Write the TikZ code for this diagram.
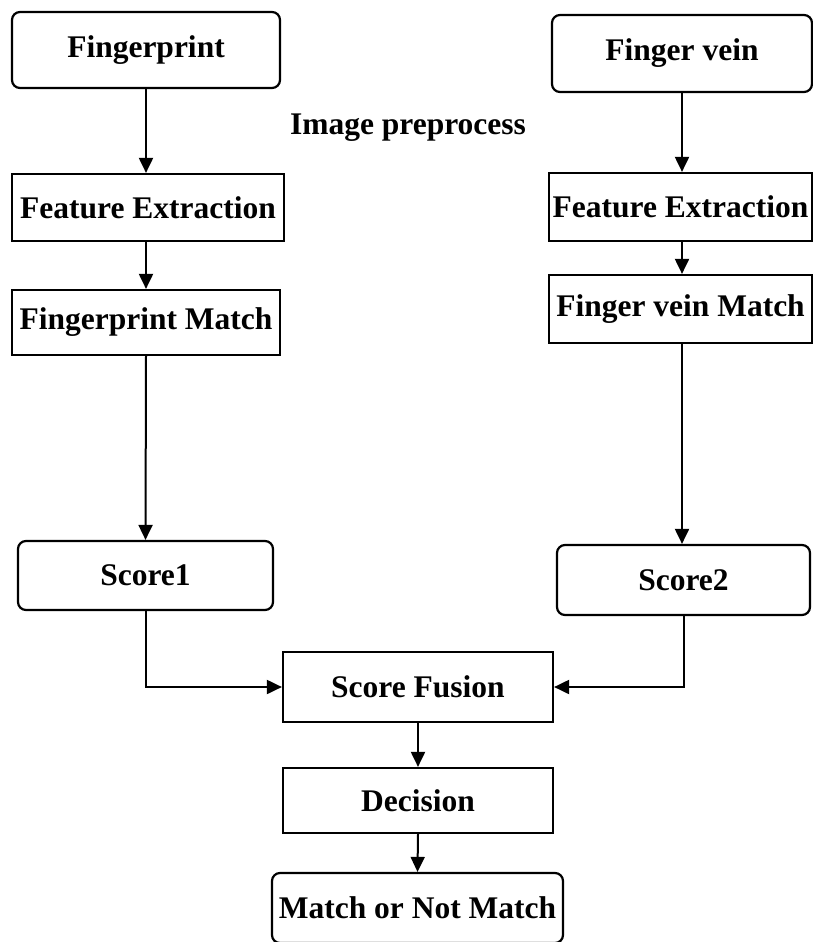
\documentclass[tikz,border=0pt]{standalone}
\usepackage{fontspec}
\setmainfont{Liberation Serif}
\usetikzlibrary{arrows.meta}
\begin{document}
\begin{tikzpicture}[x=1pt,y=-1pt,
  box/.style={draw, line width=2.2pt, inner sep=0pt, anchor=center,
    font=\fontsize{31.5}{34}\selectfont\bfseries},
  rbox/.style={box, rounded corners=8pt},
  flow/.style={line width=2pt, -{Triangle[length=15pt,width=14pt]}}]
\useasboundingbox (0,0) rectangle (813,942);

% left branch: fingerprint
\node[rbox, minimum width=268pt, minimum height=76pt] (fp)  at (146,50)    {Fingerprint};
\node[box,  minimum width=272pt, minimum height=67pt] (fe1) at (148,207.5) {Feature Extraction};
\node[box,  minimum width=268pt, minimum height=65pt] (fm)  at (146,322.5) {Fingerprint Match};
\node[rbox, minimum width=255pt, minimum height=69pt] (s1)  at (145.5,575.5) {Score1};

% right branch: finger vein
\node[rbox, minimum width=260pt, minimum height=77pt] (fv)  at (682,53.5)  {Finger vein};
\node[box,  minimum width=263pt, minimum height=68pt] (fe2) at (680.5,207) {Feature Extraction};
\node[box,  minimum width=263pt, minimum height=68pt] (fvm) at (680.5,309) {Finger vein Match};
\node[rbox, minimum width=253pt, minimum height=70pt] (s2)  at (683.5,580) {Score2};

% fusion and decision
\node[box,  minimum width=270pt, minimum height=70pt] (sf)  at (418,687)   {Score Fusion};
\node[box,  minimum width=270pt, minimum height=65pt] (dec) at (418,800.5) {Decision};
\node[rbox, minimum width=291pt, minimum height=70pt] (mnm) at (417.5,908) {Match or Not Match};

\node[font=\fontsize{31.5}{34}\selectfont\bfseries] (pre) at (408,128) {Image preprocess};

% connectors
\draw[flow] (fp.south)  -- (fp.south |- fe1.north);
\draw[flow] (fp.south |- fe1.south) -- (fp.south |- fm.north);
\draw[flow] (fm.south)  -- (s1.north);
\draw[flow] (s1.south)  |- (sf.west);

\draw[flow] (fv.south)  -- (fv.south |- fe2.north);
\draw[flow] (fv.south |- fe2.south) -- (fv.south |- fvm.north);
\draw[flow] (fv.south |- fvm.south) -- (fv.south |- s2.north);
\draw[flow] (s2.south)  |- (sf.east);

\draw[flow] (sf.south)  -- (dec.north);
\draw[flow] (dec.south) -- (mnm.north);
\end{tikzpicture}
\end{document}
